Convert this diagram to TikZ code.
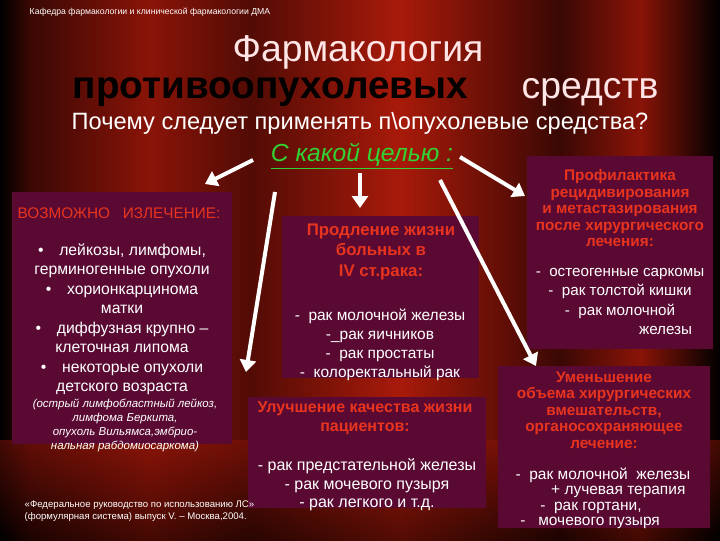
\documentclass[tikz,border=0pt]{standalone}
\usepackage{fontspec}
\setmainfont{Liberation Sans}
\usetikzlibrary{arrows.meta}
\definecolor{boxc}{HTML}{5A0A32}
\definecolor{headc}{HTML}{E8341E}
\definecolor{greenc}{HTML}{33D233}
\definecolor{dkr}{HTML}{3A0804}
\definecolor{mr}{HTML}{8A1408}
\definecolor{br}{HTML}{A81A0A}
\tikzset{
 card/.style={fill=boxc, inner sep=0pt, anchor=north west},
 body/.style={text=white, font=\fontsize{12}{14.3}\selectfont, align=center},
 head/.style={text=headc, font=\bfseries\fontsize{11.5}{12.4}\selectfont, align=center},
 arr/.style={draw=white, line width=3pt, -{Triangle[length=9pt,width=12pt]}},
}
\begin{document}
\begin{tikzpicture}[x=0.75pt,y=-0.75pt]
\useasboundingbox (0,0) rectangle (720,540);
% background curtain
\shade[left color=black, right color=dkr] (0,0) rectangle (30,540);
\shade[left color=dkr, right color=mr] (30,0) rectangle (150,540);
\shade[left color=mr, right color=dkr!70!mr] (150,0) rectangle (250,540);
\shade[left color=dkr!70!mr, right color=br] (250,0) rectangle (400,540);
\shade[left color=br, right color=dkr] (400,0) rectangle (560,540);
\shade[left color=dkr, right color=mr] (560,0) rectangle (640,540);
\shade[left color=mr, right color=black] (640,0) rectangle (720,540);
\shade[top color=mr, bottom color=black, opacity=0.5] (0,440) rectangle (720,540);
% header
\node[text=white, anchor=west, font=\fontsize{6.5}{8}\selectfont] (hdr) at (25,12) {Кафедра фармакологии и клинической фармакологии ДМА};
\node[text=white!90!red, font=\fontsize{28}{30}\selectfont] (t1) at (358,52) {Фармакология};
\node[text=black, font=\bfseries\fontsize{29}{30}\selectfont, anchor=west] (t2) at (68,92) {противоопухолевых};
\node[text=white!90!red, font=\fontsize{28}{30}\selectfont, anchor=west] (t3) at (517,92) {средств};
\node[text=white, font=\fontsize{17.7}{20}\selectfont] (t4) at (360,123) {Почему следует применять п\textbackslash опухолевые средства?};
\node[text=greenc, font=\itshape\fontsize{18.5}{20}\selectfont] (goal) at (362,156) {\underline{С какой целью :}};
% box A
\node[card, minimum width=220*0.75pt, minimum height=252*0.75pt] (A) at (12,192) {};
\node[text=headc, font=\fontsize{11.5}{12}\selectfont, anchor=west] (Ah) at (13,213) {ВОЗМОЖНО\ \ \ ИЗЛЕЧЕНИЕ:};
\node[body, anchor=north, font=\fontsize{11.8}{14.6}\selectfont] (Ab) at (122,239) {%
\textbullet\quad лейкозы, лимфомы,\\ герминогенные опухоли\\
\textbullet\quad хорионкарцинома\\ матки\\
\textbullet\quad диффузная крупно --\\ клеточная липома\\
\textbullet\quad некоторые опухоли\\ детского возраста};
\node[text=white, font=\itshape\fontsize{8.6}{10.5}\selectfont, align=center, anchor=north] (Ai) at (125,394) {(острый лимфобластный лейкоз,\\ лимфома Беркита,\\ опухоль Вильямса,эмбрио-\\ нальная рабдомиосаркома)};
% box B
\node[card, minimum width=197*0.75pt, minimum height=162*0.75pt] (B) at (282,216) {};
\node[head, anchor=north, font=\bfseries\fontsize{12.6}{15.4}\selectfont] (Bh) at (381,219) {Продление жизни\\ больных в\\ IV ст.рака:};
\node[body, anchor=north, font=\fontsize{11.6}{14.3}\selectfont] (Bb) at (380,304) {-\ \ рак молочной железы\\ -\_рак яичников\\ -\ \ рак простаты\\ -\ \ колоректальный рак};
% box C
\node[card, minimum width=186*0.75pt, minimum height=193*0.75pt] (C) at (527,156) {};
\node[head, anchor=north] (Ch) at (620,165) {Профилактика\\ рецидивирования\\ и метастазирования\\ после хирургического\\ лечения:};
\node[body, anchor=north, font=\fontsize{11.4}{14.3}\selectfont] (Cb) at (620,264) {-\ \ остеогенные саркомы\\ -\ \ рак толстой кишки\\ -\ \ рак молочной\\ \hspace*{6em}железы};
% box D
\node[card, minimum width=238*0.75pt, minimum height=111*0.75pt] (D) at (248,397) {};
\node[head, anchor=north, font=\bfseries\fontsize{12}{14.2}\selectfont] (Dh) at (365,397) {Улучшение качества жизни\\ пациентов:};
\node[body, anchor=north, font=\fontsize{12}{13.9}\selectfont] (Db) at (367,454) {- рак предстательной железы\\ - рак мочевого пузыря\\ - рак легкого и т.д.};
% box E
\node[card, minimum width=212*0.75pt, minimum height=162*0.75pt] (E) at (498,366) {};
\node[head, anchor=north] (Eh) at (604,367) {Уменьшение\\ объема хирургических\\ вмешательств,\\ органосохраняющее\\ лечение:};
\node[body, anchor=north, align=left, font=\fontsize{11.6}{11.6}\selectfont] (Eb) at (603,463) {-\ \ рак молочной\ \ железы\\ \hspace*{2.3em}+ лучевая терапия\\ \hspace*{1.6em}-\ \ рак гортани,\\ \hspace*{0.3em}-\ \ \ мочевого пузыря};
% footnote
\node[text=white, font=\fontsize{7.2}{9.5}\selectfont, align=left, anchor=west] (fn) at (20,511) {«Федеральное руководство по использованию ЛС»\\ (формулярная система) выпуск V. -- Москва,2004.};
% arrows
\coordinate (a1s) at (253,160); \coordinate (a1e) at (205,184);
\coordinate (a2s) at (360,173); \coordinate (a2e) at (360,208);
\coordinate (a3s) at (275,192); \coordinate (a3e) at (246,372);
\coordinate (a4s) at (440,180); \coordinate (a4e) at (536,366);
\coordinate (a5s) at (460,157); \coordinate (a5e) at (525,196);
\draw[arr] (a1s) -- (a1e);
\draw[arr] (a2s) -- (a2e);
\draw[arr] (a3s) -- (a3e);
\draw[arr] (a4s) -- (a4e);
\draw[arr] (a5s) -- (a5e);
\end{tikzpicture}
\end{document}
